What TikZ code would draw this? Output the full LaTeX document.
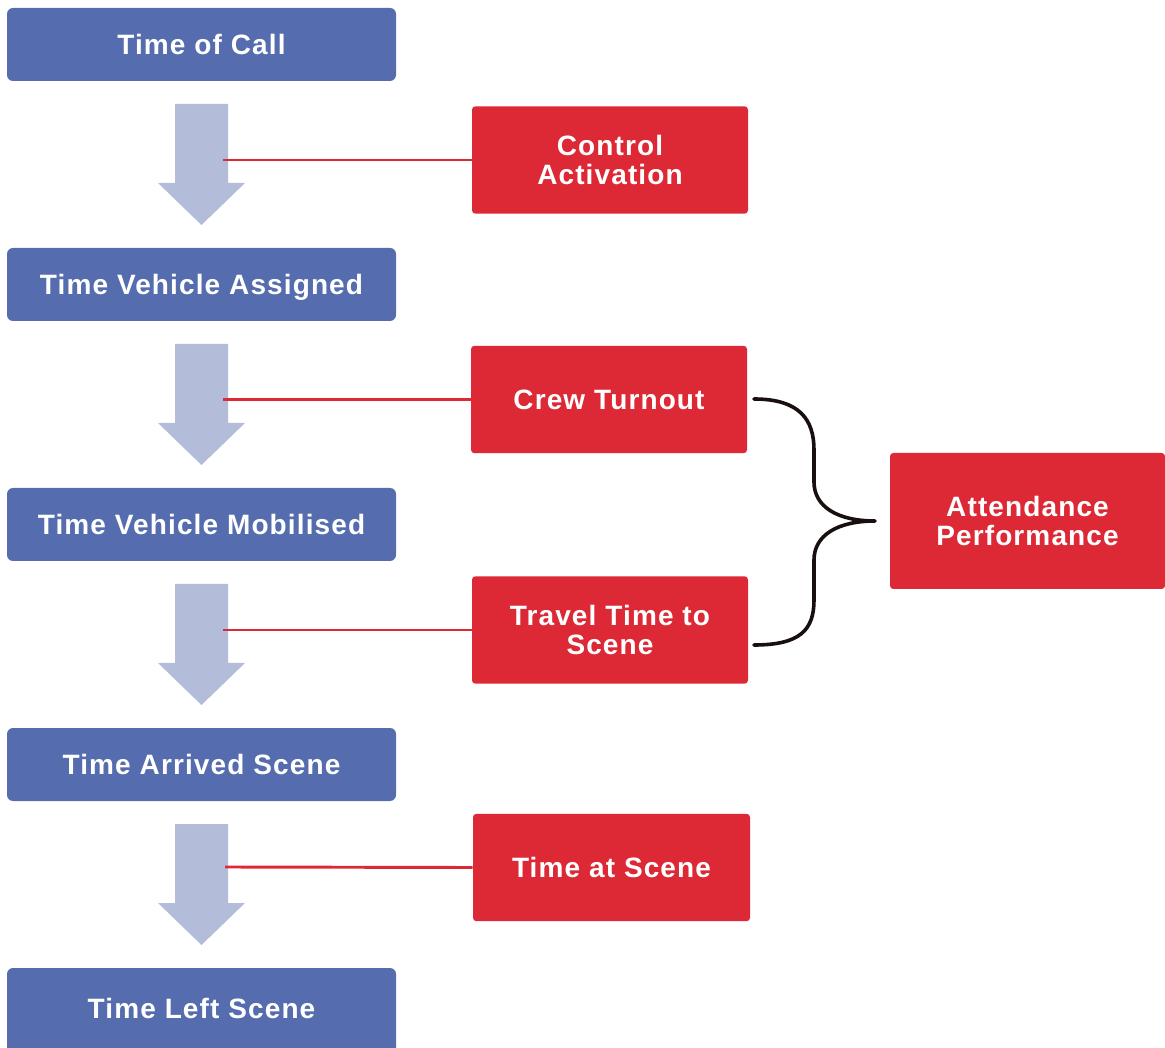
\documentclass[tikz,border=0pt]{standalone}
\usepackage{fontspec}
\setmainfont{Liberation Sans}
\newfontfamily\lblfont{Liberation Sans}[LetterSpace=4]
\begin{document}
\begin{tikzpicture}[x=0.75pt,y=-0.75pt,
  lbl/.style={font=\lblfont\bfseries\fontsize{21}{21.75}\selectfont, text=white, align=center},
  oneline/.style={text height=15pt, text depth=0pt},
  bluebox/.style={lbl, oneline, rectangle, rounded corners=4.5pt, fill=boxblue,
    minimum width=291.75pt, minimum height=54.75pt, inner sep=0pt},
  redbox/.style={lbl, rectangle, rounded corners=2.5pt, fill=boxred,
    minimum width=207pt, minimum height=80.5pt, inner sep=0pt},
  downarrow/.style={fill=arrowblue},
  redline/.style={draw=boxred, line width=2.2pt},
  bracestyle/.style={draw=bracecol, line width=2.7pt, line cap=round, line join=round}]
\definecolor{boxblue}{RGB}{85,108,175}
\definecolor{boxred}{RGB}{220,41,53}
\definecolor{arrowblue}{RGB}{179,189,218}
\definecolor{bracecol}{RGB}{26,15,15}
\useasboundingbox (0,0) rectangle (1165,1048);
\clip (0,0) rectangle (1165,1048);
% blue boxes
\node[bluebox] (b1) at (201.5,44.5) {Time of Call};
\node[bluebox] (b2) at (201.5,284.5) {Time Vehicle Assigned};
\node[bluebox] (b3) at (201.5,524.5) {Time Vehicle Mobilised};
\node[bluebox] (b4) at (201.5,764.5) {Time Arrived Scene};
\node[bluebox, minimum height=67.5pt] (b5) at (201.5,1013) {};
\node[lbl, oneline] (b5t) at (201.5,1008.5) {Time Left Scene};
% arrows
\foreach \dy in {0,240,480,720} {
  \fill[downarrow] (175,104+\dy) -- (228,104+\dy) -- (228,183+\dy) -- (245,183+\dy)
    -- (201.5,225+\dy) -- (158,183+\dy) -- (175,183+\dy) -- cycle;
}
\coordinate (a1) at (223,160);
\coordinate (a2) at (223,399.5);
\coordinate (a3) at (223,630);
\coordinate (a4) at (225,867);
% red boxes
\node[redbox] (r1) at (610,160) {Control\\Activation};
\node[redbox, oneline] (r2) at (609,399.5) {Crew Turnout};
\node[redbox] (r3) at (610,630) {Travel Time to\\Scene};
\node[redbox, oneline, minimum width=207.75pt] (r4) at (611.5,867.5) {Time at Scene};
\node[redbox, minimum width=206.25pt, minimum height=102pt] (r5) at (1027.5,521) {Attendance\\Performance};
% red connectors
\draw[redline] (a1) -- (r1.west);
\draw[redline] (a2) -- (r2.west);
\draw[redline] (a3) -- (r3.west);
\draw[redline] (a4) -- (r4.west);
% brace
\coordinate (bt) at (754,399);
\coordinate (bb) at (754,645);
\coordinate (tip) at (875,521);
\draw[bracestyle] (bt) .. controls (800,399) and (814,420) .. (814,450) -- (814,482)
  .. controls (814,507) and (838,521) .. (tip)
  .. controls (838,521) and (814,535) .. (814,560) -- (814,600)
  .. controls (814,630) and (800,645) .. (bb);
\end{tikzpicture}
\end{document}
